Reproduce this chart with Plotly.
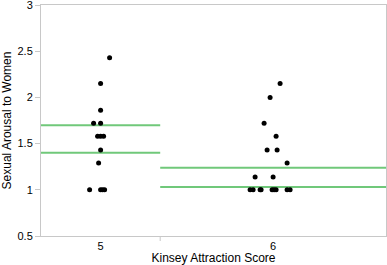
import plotly.graph_objects as go

# ---- data ----
groups = ["5", "6"]
arousal_5 = [2.43, 2.15, 1.86, 1.72, 1.72, 1.58, 1.58, 1.58, 1.43, 1.29, 1.0, 1.0, 1.0, 1.0]
jitter_5 = [9, 0, 0, -7, 0, -3, 0, 3, 0, -2, -11, 0, 2, 4]          # horizontal jitter (px)
arousal_6 = [2.15, 2.0, 1.72, 1.58, 1.43, 1.43, 1.29, 1.14, 1.14,
             1.0, 1.0, 1.0, 1.0, 1.0, 1.0, 1.0, 1.0, 1.0]
jitter_6 = [7, -3, -9, 3, -6, 4, 14, -18, 0, -23, -20, -13, -12, -1, 1, 3, 14, 17]
lines_5 = [1.70, 1.40]     # green reference lines, group 5
lines_6 = [1.24, 1.03]     # green reference lines, group 6
y_ticks = [0.5, 1, 1.5, 2, 2.5, 3]
y_tick_labels = ["0.5", "1", "1.5", "2", "2.5", "3"]

# ---- layout geometry ----
W, H = 387, 265
ml, mr, mt, mb = 41, 1, 5, 29
plot_w = W - ml - mr
divider = 0.3455            # boundary between the two groups (axis fraction)
bounds = [(0.0, divider), (divider, 1.0)]
centers = [(a + b) / 2 for a, b in bounds]

fig = go.Figure()

green = "rgb(112,200,122)"
for (a, b), ys in zip(bounds, [lines_5, lines_6]):
    for yv in ys:
        fig.add_trace(go.Scatter(x=[a, b], y=[yv, yv], mode="lines",
                                 line=dict(color=green, width=2),
                                 hoverinfo="skip", showlegend=False, cliponaxis=False))

for c, vals, jit in zip(centers, [arousal_5, arousal_6], [jitter_5, jitter_6]):
    fig.add_trace(go.Scatter(x=[c + j / plot_w for j in jit], y=vals, mode="markers",
                             marker=dict(color="black", size=5),
                             showlegend=False))

axis_color = "rgb(200,200,200)"
fig.add_shape(type="line", xref="x", yref="paper", x0=divider, x1=divider,
              y0=0, y1=-5 / (H - mt - mb), line=dict(color=axis_color, width=1))

font = "Liberation Sans, Arial, Helvetica, sans-serif"
fig.update_layout(
    width=W, height=H,
    margin=dict(l=ml, r=mr, t=mt, b=mb, autoexpand=False),
    paper_bgcolor="white", plot_bgcolor="white",
    font=dict(family=font, size=11, color="black"),
    xaxis=dict(range=[0, 1], tickvals=centers, ticktext=groups, ticks="",
               showgrid=False, zeroline=False, showline=True, mirror=True,
               linecolor=axis_color, linewidth=1,
               title=dict(text="Kinsey Attraction Score", font=dict(size=12), standoff=2),
               tickfont=dict(size=11)),
    yaxis=dict(range=[0.5, 3.0005], tickvals=y_ticks, ticktext=y_tick_labels,
               ticks="outside", ticklen=5, tickcolor=axis_color,
               ticklabeloverflow="allow",
               showgrid=False, zeroline=False, showline=True, mirror=True,
               linecolor=axis_color, linewidth=1,
               title=dict(text="Sexual Arousal to Women", font=dict(size=12), standoff=6),
               tickfont=dict(size=11)),
)

fig.write_html("out.html", config={"displayModeBar": False},
               post_script="document.body.style.margin='0px';document.body.style.overflow='hidden';")
